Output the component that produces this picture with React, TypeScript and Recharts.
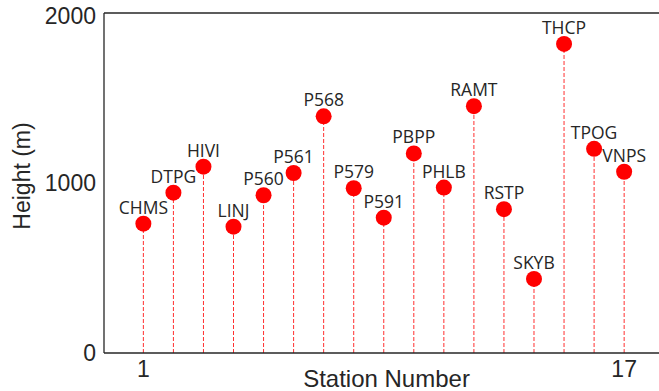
import React from "react";
import {
  ComposedChart,
  Scatter,
  XAxis,
  YAxis,
  ZAxis,
  ReferenceLine,
  LabelList,
  Label,
} from "recharts";

// Station names, their index along the profile, and elevation in metres
const stationNames = [
  "CHMS", "DTPG", "HIVI", "LINJ", "P560", "P561", "P568", "P579", "P591",
  "PBPP", "PHLB", "RAMT", "RSTP", "SKYB", "THCP", "TPOG", "VNPS",
];
const stationNumbers = [1, 2, 3, 4, 5, 6, 7, 8, 9, 10, 11, 12, 13, 14, 15, 16, 17];
const heights = [
  761, 943, 1096, 743, 928, 1059, 1392, 969, 796, 1174, 973, 1452, 846, 436, 1818, 1201, 1066,
];

const xTicks = [1, 17];
const yTicks = [0, 1000, 2000];

const data = stationNumbers.map((n, i) => ({
  station: n,
  height: heights[i],
  name: stationNames[i],
}));

const axisFont = "'Liberation Sans', Arial, sans-serif";
const axisColor = "#262626";

const YTitle = (props: any) => {
  const vb = props.viewBox || {};
  const cx = vb.x + 22;
  const cy = vb.y + vb.height / 2 - 7;
  return (
    <text
      x={cx}
      y={cy}
      transform={`rotate(-90, ${cx}, ${cy})`}
      textAnchor="middle"
      dominantBaseline="central"
      fontFamily={axisFont}
      fontSize={23}
      fill={axisColor}
    >
      Height (m)
    </text>
  );
};

export default function App() {
  return (
    <div style={{ position: "absolute", left: 0, top: 0, width: 659, height: 391, background: "#fff" }}>
      <ComposedChart
        width={659}
        height={391}
        data={data}
        margin={{ top: 13, right: 0, bottom: 0, left: 0 }}
      >
        <XAxis
          dataKey="station"
          type="number"
          domain={[-0.31, 18.16]}
          ticks={xTicks}
          allowDataOverflow
          height={38}
          tickLine={false}
          axisLine={{ stroke: axisColor, strokeWidth: 1.3 }}
          tick={{ fontFamily: axisFont, fontSize: 23, fill: axisColor }}
        >
          <Label
            value="Station Number"
            position="insideBottom"
            offset={4}
            dx={5}
            style={{ fontFamily: axisFont, fontSize: 24, fill: axisColor }}
          />
        </XAxis>
        <YAxis
          dataKey="height"
          type="number"
          domain={[0, 2000]}
          ticks={yTicks}
          width={104}
          tickLine={false}
          axisLine={{ stroke: axisColor, strokeWidth: 1.3 }}
          tick={{ fontFamily: axisFont, fontSize: 23, fill: axisColor }}
        >
          <Label content={<YTitle />} />
        </YAxis>
        <ZAxis range={[201, 201]} />
        <ReferenceLine y={2000} stroke={axisColor} strokeWidth={1.3} />
        {data.map((d) => (
          <ReferenceLine
            key={d.name}
            segment={[
              { x: d.station, y: 0 },
              { x: d.station, y: d.height },
            ]}
            stroke="#ff3030"
            strokeWidth={1}
            strokeDasharray="4 2"
          />
        ))}
        <Scatter dataKey="height" fill="#ff0000" isAnimationActive={false}>
          <LabelList
            dataKey="name"
            position="top"
            offset={2}
            style={{ fontFamily: "'Open Sans', sans-serif", fontSize: 17.5, fill: "#262626" }}
          />
        </Scatter>
      </ComposedChart>
    </div>
  );
}
